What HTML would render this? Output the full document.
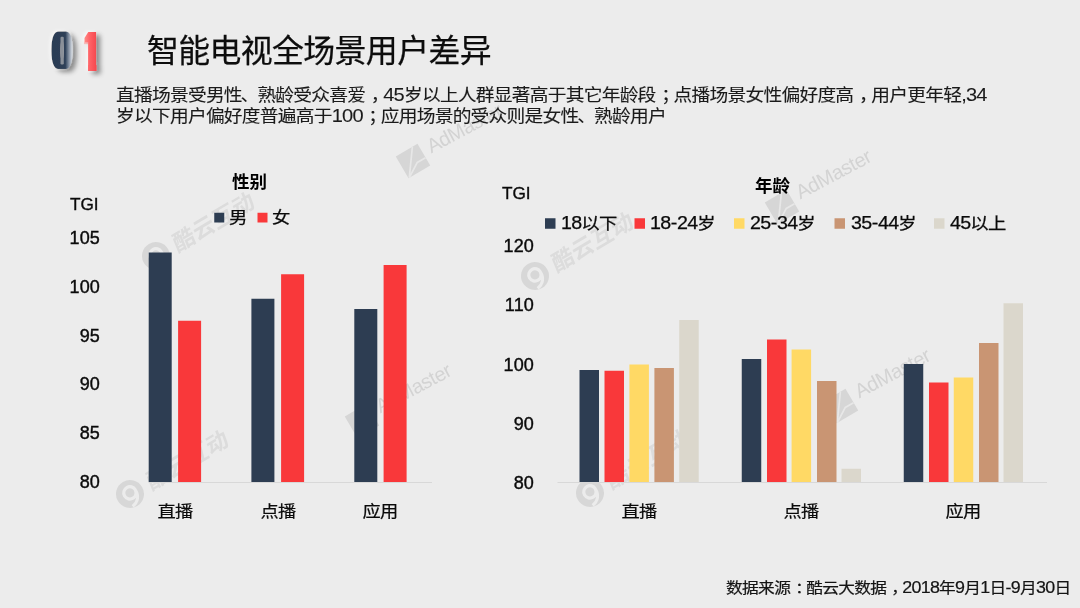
<!DOCTYPE html>
<html lang="zh-CN">
<head>
<meta charset="utf-8">
<title>智能电视全场景用户差异</title>
<style>
html,body{margin:0;padding:0;}
body{width:1080px;height:608px;overflow:hidden;background:#ececec;position:relative;
  font-family:"Liberation Sans","Noto Sans CJK SC",sans-serif;color:#111;}
.abs{position:absolute;white-space:nowrap;line-height:1;}
.w{transform:scaleX(1.12);letter-spacing:-0.04em;-webkit-text-stroke:0.1px currentColor;}
.w.l{transform-origin:0 50%;}
.w.c{transform-origin:50% 50%;}
.w.r{transform-origin:100% 50%;}
.d{font-size:1.07em;letter-spacing:-0.04em;line-height:0;}
.p{position:relative;left:0.3em;}
.q{margin:0 -1.1px;}
.h{margin:0 0.45px;}
#title{left:147.2px;top:29.8px;font-size:31.27px;line-height:44px;color:#0d0d0d;transform:scaleX(1.02);transform-origin:0 50%;letter-spacing:-0.0196em;-webkit-text-stroke:0.25px #0d0d0d;}
#sub{left:116.3px;top:84.7px;font-size:16.73px;line-height:21.15px;color:#1a1a1a;}
.ct{font-size:17.2px;color:#0a0a0a;-webkit-text-stroke:0.35px #0a0a0a;}
.ax{font-size:18px;color:#0a0a0a;text-align:right;-webkit-text-stroke:0.4px #0a0a0a;letter-spacing:0.15px;}
.cat{font-size:16.3px;color:#0a0a0a;-webkit-text-stroke:0.2px #0a0a0a;text-align:center;width:80px;}
.ttl{font-size:17.5px;font-weight:bold;color:#000;}
.lg{font-size:16.4px;color:#0a0a0a;-webkit-text-stroke:0.25px #0a0a0a;}
#foot{right:9.5px;top:581.3px;font-size:14.9px;color:#141414;-webkit-text-stroke:0.2px #141414;}
svg{position:absolute;left:0;top:0;}
.wm{position:absolute;width:0;height:0;transform-origin:0 0;}
.wm.ky{transform:rotate(-30.5deg);}
.wm.am{transform:rotate(-28deg);}
.wm span{position:absolute;white-space:nowrap;line-height:1;color:#dadada;}
.wm.ky span{left:21px;top:-10.5px;font-size:22.5px;font-weight:bold;letter-spacing:0.4px;transform:skewX(-8deg);color:#dcdcdc;}
.wm.am span{left:19.5px;top:-14.6px;font-size:20px;letter-spacing:-0.4px;color:#d3d3d3;}
.wm.ky svg{left:-16px;top:-16px;}
.wm.am svg{left:-18px;top:-18px;transform:rotate(-2.5deg);}
</style>
</head>
<body>
<!-- watermarks -->
<div class="wm ky" style="left:155.5px;top:256px"><svg width="32" height="32" viewBox="-16 -16 32 32"><circle r="14" fill="#d7d7d7"/><circle r="6.2" cx="0.5" cy="-1" fill="none" stroke="#ececec" stroke-width="3.2"/><path d="M6.5 0 C7 6 3 11 -4 12" fill="none" stroke="#ececec" stroke-width="3"/></svg><span>酷云互动</span></div>
<div class="wm ky" style="left:534.8px;top:275.5px"><svg width="32" height="32" viewBox="-16 -16 32 32"><circle r="14" fill="#d7d7d7"/><circle r="6.2" cx="0.5" cy="-1" fill="none" stroke="#ececec" stroke-width="3.2"/><path d="M6.5 0 C7 6 3 11 -4 12" fill="none" stroke="#ececec" stroke-width="3"/></svg><span>酷云互动</span></div>
<div class="wm ky" style="left:129.7px;top:494px"><svg width="32" height="32" viewBox="-16 -16 32 32"><circle r="14" fill="#d7d7d7"/><circle r="6.2" cx="0.5" cy="-1" fill="none" stroke="#ececec" stroke-width="3.2"/><path d="M6.5 0 C7 6 3 11 -4 12" fill="none" stroke="#ececec" stroke-width="3"/></svg><span>酷云互动</span></div>
<div class="wm ky" style="left:590px;top:492.5px"><svg width="32" height="32" viewBox="-16 -16 32 32"><circle r="14" fill="#d7d7d7"/><circle r="6.2" cx="0.5" cy="-1" fill="none" stroke="#ececec" stroke-width="3.2"/><path d="M6.5 0 C7 6 3 11 -4 12" fill="none" stroke="#ececec" stroke-width="3"/></svg><span>酷云互动</span></div>
<div class="wm am" style="left:412.9px;top:161.3px"><svg width="36" height="36" viewBox="-18 -18 36 36"><rect x="-12.6" y="-12.6" width="25.2" height="25.2" fill="#d6d6d6"/><path d="M6.7 -12.6 L-11.6 12.4 L3 3.4 L12.4 3.6" fill="none" stroke="#e7e7e7" stroke-width="1.7" stroke-linejoin="miter"/></svg><span>AdMaster</span></div>
<div class="wm am" style="left:781.8px;top:207px"><svg width="36" height="36" viewBox="-18 -18 36 36"><rect x="-12.6" y="-12.6" width="25.2" height="25.2" fill="#d6d6d6"/><path d="M6.7 -12.6 L-11.6 12.4 L3 3.4 L12.4 3.6" fill="none" stroke="#e7e7e7" stroke-width="1.7" stroke-linejoin="miter"/></svg><span>AdMaster</span></div>
<div class="wm am" style="left:362.1px;top:420.9px"><svg width="36" height="36" viewBox="-18 -18 36 36"><rect x="-12.6" y="-12.6" width="25.2" height="25.2" fill="#d6d6d6"/><path d="M6.7 -12.6 L-11.6 12.4 L3 3.4 L12.4 3.6" fill="none" stroke="#e7e7e7" stroke-width="1.7" stroke-linejoin="miter"/></svg><span>AdMaster</span></div>
<div class="wm am" style="left:841px;top:405.7px"><svg width="36" height="36" viewBox="-18 -18 36 36"><rect x="-12.6" y="-12.6" width="25.2" height="25.2" fill="#d6d6d6"/><path d="M6.7 -12.6 L-11.6 12.4 L3 3.4 L12.4 3.6" fill="none" stroke="#e7e7e7" stroke-width="1.7" stroke-linejoin="miter"/></svg><span>AdMaster</span></div>
<!-- charts -->
<svg width="1080" height="608" viewBox="0 0 1080 608">
<rect x="148.5" y="482" width="283.5" height="1" fill="#d8d8d8"/>
<rect x="557.5" y="482" width="489.5" height="1" fill="#d8d8d8"/>
<g fill="#2d3d52"><rect x="148.7" y="252.5" width="23" height="229.5"/><rect x="251.4" y="298.75" width="23" height="183.25"/><rect x="354.3" y="309" width="23" height="173"/></g>
<g fill="#f9383a"><rect x="178.1" y="320.75" width="23" height="161.25"/><rect x="281.1" y="274.25" width="23" height="207.75"/><rect x="383.6" y="265" width="23" height="217"/></g>
<g fill="#2d3d52"><rect x="579.5" y="370" width="19.5" height="112"/><rect x="741.75" y="359" width="19.5" height="123"/><rect x="903.75" y="364" width="19.5" height="118"/></g>
<g fill="#f9383a"><rect x="604.5" y="370.75" width="19.5" height="111.25"/><rect x="767" y="339.5" width="19.5" height="142.5"/><rect x="929" y="382.5" width="19.5" height="99.5"/></g>
<g fill="#ffd965"><rect x="629.4" y="364.5" width="19.5" height="117.5"/><rect x="791.6" y="349.5" width="19.5" height="132.5"/><rect x="953.75" y="377.5" width="19.5" height="104.5"/></g>
<g fill="#c99573"><rect x="654.4" y="368" width="19.5" height="114"/><rect x="817" y="381" width="19.5" height="101"/><rect x="979" y="343" width="19.5" height="139"/></g>
<g fill="#dbd7cc"><rect x="679.2" y="320" width="19.5" height="162"/><rect x="841.5" y="468.75" width="19.5" height="13.25"/><rect x="1003.5" y="303.25" width="19.5" height="178.75"/></g>
<rect x="214.25" y="212.75" width="10" height="9.75" fill="#2d3d52"/>
<rect x="257.5" y="212.75" width="10" height="9.75" fill="#f9383a"/>
<rect x="545" y="218.25" width="10.5" height="10.5" fill="#2d3d52"/>
<rect x="634.5" y="218.25" width="10.5" height="10.5" fill="#f9383a"/>
<rect x="734" y="218.25" width="10.5" height="10.5" fill="#ffd965"/>
<rect x="834.5" y="218.25" width="10.5" height="10.5" fill="#c99573"/>
<rect x="934" y="218.25" width="10.5" height="10.5" fill="#dbd7cc"/>
</svg>
<!-- section number -->
<svg id="logo" width="110" height="70" viewBox="25 15 110 70" style="position:absolute;left:25px;top:15px;font-family:'Liberation Sans',sans-serif;">
 <defs>
  <linearGradient id="g0" gradientUnits="userSpaceOnUse" x1="51.8" y1="0" x2="72.2" y2="0">
    <stop offset="0" stop-color="#2b3c54"/><stop offset="0.66" stop-color="#2e4058"/><stop offset="0.84" stop-color="#8793a4"/><stop offset="1" stop-color="#d8dde3"/>
  </linearGradient>
  <linearGradient id="g1" gradientUnits="userSpaceOnUse" x1="84" y1="0" x2="97" y2="0">
    <stop offset="0" stop-color="#ff8f8a"/><stop offset="0.4" stop-color="#ff6468"/><stop offset="1" stop-color="#f5454b"/>
  </linearGradient>
  <filter id="fat0" x="-60%" y="-30%" width="220%" height="160%">
    <feMorphology operator="dilate" radius="2.6 0.5"/>
    <feGaussianBlur stdDeviation="0.3"/>
  </filter>
  <filter id="fat1" x="-80%" y="-30%" width="260%" height="160%">
    <feMorphology operator="dilate" radius="3.42 0.5"/>
    <feGaussianBlur stdDeviation="0.3"/>
  </filter>
  <filter id="sh" filterUnits="userSpaceOnUse" x="25" y="15" width="110" height="70">
    <feGaussianBlur in="SourceAlpha" stdDeviation="2.8"/>
    <feOffset dx="3.5" dy="2.5"/>
    <feComponentTransfer result="s"><feFuncA type="linear" slope="0.42"/></feComponentTransfer>
    <feFlood flood-color="#fff"/>
    <feComposite in2="SourceAlpha" operator="in"/>
    <feGaussianBlur stdDeviation="1.6"/>
    <feOffset dx="-2" dy="-1.5"/>
    <feComponentTransfer result="hl"><feFuncA type="linear" slope="0.55"/></feComponentTransfer>
    <feMerge><feMergeNode in="hl"/><feMergeNode in="s"/><feMergeNode in="SourceGraphic"/></feMerge>
  </filter>
  <mask id="m0" maskUnits="userSpaceOnUse" x="25" y="15" width="110" height="70">
    <g filter="url(#fat0)"><text font-size="50.6" fill="#fff" transform="translate(53.3 68) scale(0.625 1)">0</text></g>
  </mask>
  <mask id="m1" maskUnits="userSpaceOnUse" x="25" y="15" width="110" height="70">
    <g filter="url(#fat1)"><text font-size="52.8" fill="#fff" transform="translate(85.3 69.5) scale(0.439 1)">1</text></g>
    <rect x="70" y="50" width="18" height="30" fill="#000"/>
    <rect x="96.55" y="20" width="20" height="60" fill="#000"/>
  </mask>
 </defs>
 <g filter="url(#sh)"><rect x="40" y="20" width="40" height="60" fill="url(#g0)" mask="url(#m0)"/></g>
 <rect x="60.5" y="36.8" width="3.3" height="27.6" rx="1.2" fill="#8a9099"/>
 <g filter="url(#sh)"><rect x="75" y="20" width="40" height="60" fill="url(#g1)" mask="url(#m1)"/></g>
</svg>

<!-- text -->
<div id="title" class="abs">智能电视全场景用户差异</div>
<div id="sub" class="abs w l">直播场景受男性<span class="q">、</span>熟龄受众喜爱<span class="p">，</span><span class="d">45</span>岁以上人群显著高于其它年龄段<span class="p">；</span>点播场景女性偏好度高<span class="p">，</span>用户更年轻<span class="d">,34</span><br>岁以下用户偏好度普遍高于<span class="d">100</span><span class="p">；</span>应用场景的受众则是女性<span class="q">、</span>熟龄用户</div>
<div class="abs ct" style="left:70px;top:196px;">TGI</div>
<div class="abs ax" style="left:50px;width:50px;top:228.9px;">105</div>
<div class="abs ax" style="left:50px;width:50px;top:277.8px;">100</div>
<div class="abs ax" style="left:50px;width:50px;top:326.6px;">95</div>
<div class="abs ax" style="left:50px;width:50px;top:375.4px;">90</div>
<div class="abs ax" style="left:50px;width:50px;top:424.2px;">85</div>
<div class="abs ax" style="left:50px;width:50px;top:473px;">80</div>
<div class="abs ttl" style="left:232px;top:173.5px;">性别</div>
<div class="abs lg w l" style="left:229px;top:209.2px;">男</div>
<div class="abs lg w l" style="left:272px;top:209.2px;">女</div>
<div class="abs cat w c" style="left:134.6px;top:503px;">直播</div>
<div class="abs cat w c" style="left:237.9px;top:503px;">点播</div>
<div class="abs cat w c" style="left:340.3px;top:503px;">应用</div>
<div class="abs ct" style="left:502px;top:184.5px;">TGI</div>
<div class="abs ax" style="left:484px;width:50px;top:236.9px;">120</div>
<div class="abs ax" style="left:484px;width:50px;top:296.2px;">110</div>
<div class="abs ax" style="left:484px;width:50px;top:355.5px;">100</div>
<div class="abs ax" style="left:484px;width:50px;top:414.8px;">90</div>
<div class="abs ax" style="left:484px;width:50px;top:474.1px;">80</div>
<div class="abs ttl" style="left:755px;top:177.5px;">年龄</div>
<div class="abs lg w l" style="left:561px;top:215.2px;"><span class="d">18</span>以下</div>
<div class="abs lg w l" style="left:650px;top:215.2px;"><span class="d">18<span class="h">-</span>24</span>岁</div>
<div class="abs lg w l" style="left:750px;top:215.2px;"><span class="d">25<span class="h">-</span>34</span>岁</div>
<div class="abs lg w l" style="left:851px;top:215.2px;"><span class="d">35<span class="h">-</span>44</span>岁</div>
<div class="abs lg w l" style="left:950px;top:215.2px;"><span class="d">45</span>以上</div>
<div class="abs cat w c" style="left:598.9px;top:503px;">直播</div>
<div class="abs cat w c" style="left:761.2px;top:503px;">点播</div>
<div class="abs cat w c" style="left:922.7px;top:503px;">应用</div>
<div id="foot" class="abs w r">数据来源<span class="p">：</span>酷云大数据<span class="p">，</span><span class="d">2018</span>年<span class="d">9</span>月<span class="d">1</span>日<span class="d">-9</span>月<span class="d">30</span>日</div>
</body>
</html>
